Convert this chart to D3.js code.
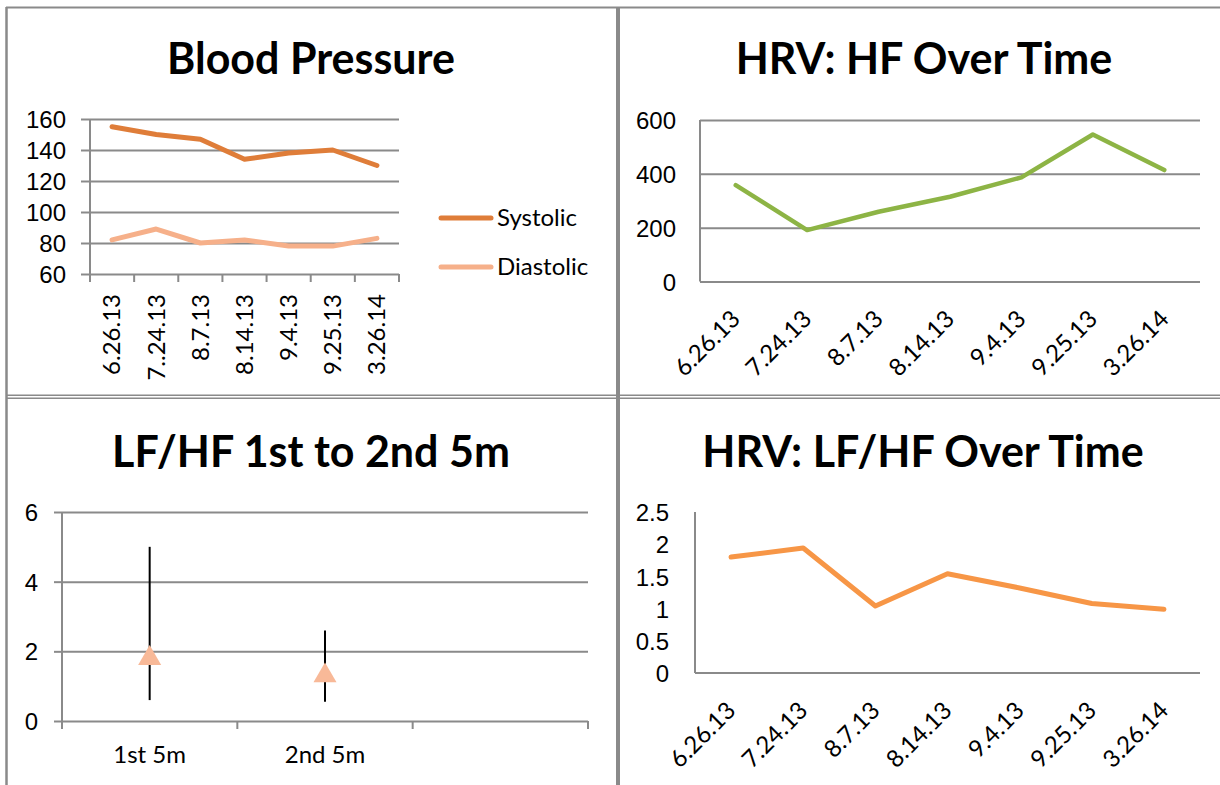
<!DOCTYPE html>
<html lang="en">
  <head>
    <meta charset="UTF-8" />
    <title>HRV Dashboard</title>
    <style>
      body { margin: 0; background: #fff; }
      svg { display: block; font-family: Lato, "Open Sans", sans-serif; }
      .title { font-weight: bold; font-size: 43px; text-anchor: middle; fill: #000; }
      .tick text { font-size: 24px; fill: #000; }
    </style>
  </head>

  <body>
  <script src="https://d3js.org/d3.v7.min.js"></script>
    <script>

var w = 1220;
var h = 785;

// blood pressure
var bpDates = ["6.26.13", "7..24.13", "8.7.13", "8.14.13", "9.4.13", "9.25.13", "3.26.14"];
var systolic = [155, 150, 147, 134, 138, 140, 130];
var diastolic = [82, 89, 80, 82, 78, 78, 83];
var bpTicks = [60, 80, 100, 120, 140, 160];

// HRV over time
var dates = ["6.26.13", "7.24.13", "8.7.13", "8.14.13", "9.4.13", "9.25.13", "3.26.14"];
var hf = [358, 191, 259, 315, 387, 546, 414];
var hfTicks = [0, 200, 400, 600];
var lfhf = [1.80, 1.94, 1.04, 1.54, 1.32, 1.08, 0.99];
var lfhfTicks = [0, 0.5, 1, 1.5, 2, 2.5];

// LF/HF first vs second 5 minutes
var segments = ["1st 5m", "2nd 5m", ""];
var segMean = [1.8, 1.3];
var segLow = [0.6, 0.55];
var segHigh = [5.0, 2.6];
var segTicks = [0, 2, 4, 6];

var grid = "#8a8a8a";
var labelSize = "24px";

var svg = d3.select("body").append("svg")
            .attr("width", w)
            .attr("height", h);

// panel borders
svg.append("line").attr("x1", 6.5).attr("x2", 6.5).attr("y1", 7).attr("y2", h)
   .attr("stroke", grid).attr("stroke-width", 2.5);
svg.append("line").attr("x1", 6).attr("x2", w).attr("y1", 7.5).attr("y2", 7.5)
   .attr("stroke", grid).attr("stroke-width", 1.8);
svg.append("line").attr("x1", 618).attr("x2", 618).attr("y1", 7).attr("y2", h)
   .attr("stroke", grid).attr("stroke-width", 4);
[395.3, 398.3].forEach(function(y) {
  svg.append("line").attr("x1", 6).attr("x2", w).attr("y1", y).attr("y2", y)
     .attr("stroke", grid).attr("stroke-width", 1.6);
});

function title(txt, x, y) {
  svg.append("text").attr("class", "title").attr("x", x).attr("y", y).text(txt);
}

function yAxis(y, x0, x1, ticks, tickLen, gridOn) {
  var g = svg.append("g")
             .attr("transform", "translate(" + x0 + ",0)")
             .call(d3.axisLeft(y).tickValues(ticks)
                     .tickFormat(d3.format("~g"))
                     .tickSize(gridOn ? -(x1 - x0) : 0)
                     .tickPadding(gridOn ? 24 : 26));
  g.select(".domain").remove();
  g.selectAll(".tick line").attr("stroke", grid).attr("stroke-width", 2);
  if (tickLen) {
    g.selectAll(".tick").append("line")
     .attr("x1", -tickLen).attr("x2", 0)
     .attr("stroke", grid).attr("stroke-width", 2);
  }
  g.selectAll(".tick text").attr("dy", "0.36em");
  // vertical axis line
  svg.append("line").attr("x1", x0).attr("x2", x0)
     .attr("y1", y.range()[1]).attr("y2", y.range()[0])
     .attr("stroke", grid).attr("stroke-width", 2);
  return g;
}

function xTicks(x, y0, len) {
  var pos = x.domain().map(function(d) { return x(d); }).concat([x.range()[1]]);
  svg.selectAll(null).data(pos).enter().append("line")
     .attr("x1", function(d) { return d; }).attr("x2", function(d) { return d; })
     .attr("y1", y0).attr("y2", y0 + len)
     .attr("stroke", grid).attr("stroke-width", 2);
}

function series(x, y, cats, vals, color, width) {
  var line = d3.line()
               .x(function(d, i) { return x(cats[i]) + x.bandwidth() / 2; })
               .y(function(d) { return y(d); });
  svg.append("path").datum(vals)
     .attr("d", line)
     .attr("fill", "none")
     .attr("stroke", color)
     .attr("stroke-width", width)
     .attr("stroke-linejoin", "round")
     .attr("stroke-linecap", "round");
}

function slantLabels(x, cats, y0) {
  svg.selectAll(null).data(cats).enter().append("text")
     .attr("transform", function(d) {
       return "translate(" + (x(d) + x.bandwidth() / 2) + "," + (y0 + 33) + ") rotate(-45)";
     })
     .attr("text-anchor", "end")
     .attr("dy", "0.35em")
     .style("font-size", labelSize)
     .text(function(d) { return d; });
}

// ---- Blood Pressure ----
title("Blood Pressure", 311, 74);
var x1 = d3.scaleBand().domain(bpDates).range([90, 399]);
var y1 = d3.scaleLinear().domain([60, 160]).range([274, 119]);
yAxis(y1, 90, 399, bpTicks, 9, true);
xTicks(x1, 274, 8);
series(x1, y1, bpDates, systolic, "#df7d39", 5);
series(x1, y1, bpDates, diastolic, "#f6b08a", 5);
svg.selectAll(null).data(bpDates).enter().append("text")
   .attr("transform", function(d) {
     return "translate(" + (x1(d) + x1.bandwidth() / 2) + ",294) rotate(-90)";
   })
   .attr("text-anchor", "end")
   .attr("dy", "0.35em")
   .style("font-size", labelSize)
   .text(function(d) { return d; });

var legend = [["Systolic", "#df7d39", 218], ["Diastolic", "#f6b08a", 267]];
legend.forEach(function(l) {
  svg.append("line").attr("x1", 441).attr("x2", 491).attr("y1", l[2]).attr("y2", l[2])
     .attr("stroke", l[1]).attr("stroke-width", 5).attr("stroke-linecap", "round");
  svg.append("text").attr("x", 497).attr("y", l[2]).attr("dy", "0.35em")
     .style("font-size", labelSize).text(l[0]);
});

// ---- HRV: HF ----
title("HRV: HF Over Time", 924, 74);
var x2 = d3.scaleBand().domain(dates).range([700, 1200]);
var y2 = d3.scaleLinear().domain([0, 600]).range([281.5, 120]);
yAxis(y2, 700, 1200, hfTicks, 0, true);
series(x2, y2, dates, hf, "#8db445", 4.5);
slantLabels(x2, dates, 281.5);

// ---- LF/HF 1st to 2nd 5m ----
title("LF/HF 1st to 2nd 5m", 311, 467);
var x3 = d3.scaleBand().domain(segments).range([62, 588]);
var y3 = d3.scaleLinear().domain([0, 6]).range([721, 512]);
yAxis(y3, 62, 588, segTicks, 8, true);
xTicks(x3, 721, 8);
var seg = segments.slice(0, 2);
svg.selectAll(null).data(seg).enter().append("line")
   .attr("x1", function(d) { return x3(d) + x3.bandwidth() / 2; })
   .attr("x2", function(d) { return x3(d) + x3.bandwidth() / 2; })
   .attr("y1", function(d, i) { return y3(segHigh[i]); })
   .attr("y2", function(d, i) { return y3(segLow[i]); })
   .attr("stroke", "#000").attr("stroke-width", 2);
svg.selectAll(null).data(seg).enter().append("path")
   .attr("d", d3.symbol().type(d3.symbolTriangle).size(230))
   .attr("transform", function(d, i) {
     return "translate(" + (x3(d) + x3.bandwidth() / 2) + "," + y3(segMean[i]) + ")";
   })
   .attr("fill", "#f8b998");
svg.selectAll(null).data(seg).enter().append("text")
   .attr("x", function(d) { return x3(d) + x3.bandwidth() / 2; })
   .attr("y", 763)
   .attr("text-anchor", "middle")
   .style("font-size", labelSize)
   .text(function(d) { return d; });

// ---- HRV: LF/HF ----
title("HRV: LF/HF Over Time", 923, 467);
var x4 = d3.scaleBand().domain(dates).range([695, 1200]);
var y4 = d3.scaleLinear().domain([0, 2.5]).range([673, 512]);
yAxis(y4, 695, 1200, lfhfTicks, 0, false);
svg.append("line").attr("x1", 695).attr("x2", 1200).attr("y1", 673).attr("y2", 673)
   .attr("stroke", grid).attr("stroke-width", 2);
series(x4, y4, dates, lfhf, "#f79646", 5);
slantLabels(x4, dates, 673);

</script>

  </body>
</html>
